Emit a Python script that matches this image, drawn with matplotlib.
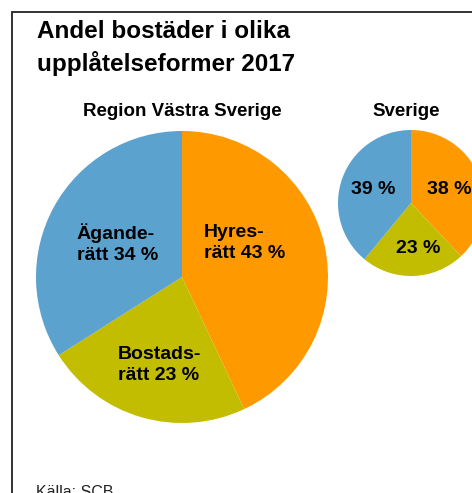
import matplotlib.pyplot as plt
from matplotlib.patches import Rectangle

plt.rcParams['font.family'] = ['Liberation Sans', 'DejaVu Sans']

# data
kategorier = ["Hyresrätt", "Bostadsrätt", "Äganderätt"]
region_andel = [43, 23, 34]
sverige_andel = [38, 23, 39]
farger = ["#FF9900", "#C2BD00", "#5BA2CF"]
region_etiketter = ["Hyres-\nrätt 43 %", "Bostads-\nrätt 23 %", "Ägande-\nrätt 34 %"]
sverige_etiketter = ["38 %", "23 %", "39 %"]

W, H = 472, 493
fig = plt.figure(figsize=(W / 100, H / 100), dpi=100)
ax = fig.add_axes([0, 0, 1, 1])

# frame (cropped on right/bottom)
ax.add_patch(Rectangle((12, -20), W + 40, H - 12 + 20, fill=False,
                       edgecolor="#222222", linewidth=1.3))

# region pie
c1, r1 = (182, H - 277), 146
ax.pie(region_andel, colors=farger, startangle=90, counterclock=False,
       center=c1, radius=r1, wedgeprops=dict(linewidth=0), frame=True)
pos1 = [(0.15, 0.23), (-0.44, -0.60), (-0.72, 0.23)]
for lab, (dx, dy) in zip(region_etiketter, pos1):
    ax.text(c1[0] + dx * r1, c1[1] + dy * r1, lab, ha="left", va="center",
            fontsize=14, fontweight="bold", linespacing=1.3)

# sverige pie
c2, r2 = (411, H - 203), 73
ax.pie(sverige_andel, colors=farger, startangle=90, counterclock=False,
       center=c2, radius=r2, wedgeprops=dict(linewidth=0), frame=True)
pos2 = [(0.53, 0.18), (0.10, -0.63), (-0.52, 0.18)]
for lab, (dx, dy) in zip(sverige_etiketter, pos2):
    ax.text(c2[0] + dx * r2, c2[1] + dy * r2, lab, ha="center", va="center",
            fontsize=14, fontweight="bold")

ax.set_xlim(0, W)
ax.set_ylim(0, H)
ax.set_aspect("auto")
ax.axis("off")

ax.text(37, H - 48, "Andel bostäder i olika\nupplåtelseformer 2017", ha="left",
        va="center", fontsize=17.5, fontweight="bold", linespacing=1.4)
ax.text(182, H - 111, "Region Västra Sverige", ha="center", va="center",
        fontsize=13.5, fontweight="bold")
ax.text(406, H - 111, "Sverige", ha="center", va="center",
        fontsize=13.5, fontweight="bold")
ax.text(36, H - 497, "Källa: SCB", ha="left", va="baseline", fontsize=11.5,
        color="#222222")

fig.savefig("out.png", dpi=100)
